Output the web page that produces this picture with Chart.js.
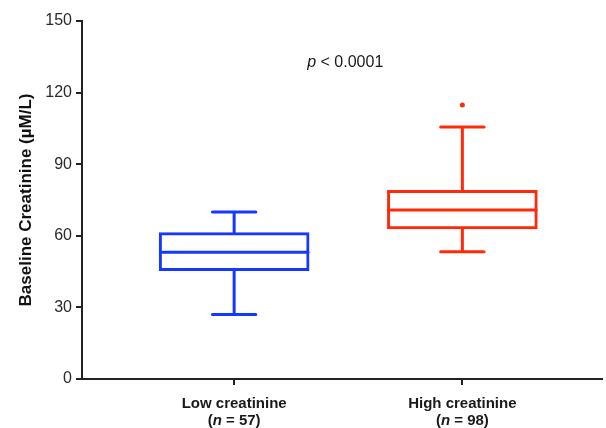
<!DOCTYPE html>
<html>
<head>
<meta charset="utf-8">
<script src="https://cdn.jsdelivr.net/npm/chart.js@4.4.1/dist/chart.umd.min.js"></script>
<style>
    body { margin: 0; background: #fff; }
    #wrap { width: 606px; height: 428px; }
</style>
</head>
<body>
<div id="wrap"><canvas id="boxChart"></canvas></div>
<script>
const groups = ['Low creatinine', 'High creatinine'];
const groupN = [57, 98];
const whiskerMin = [27, 53.3];
const q1 = [45.2, 62.7];
const median = [53.1, 70.8];
const q3 = [61.5, 79.2];
const whiskerMax = [70, 105.6];
const outliers = [[], [114.8]];
const yTicks = [0, 30, 60, 90, 120, 150];
const pText = ['p', ' < 0.0001'];

const colors = ['#1438ff', '#ff2a0a'];
const FONT = "'Liberation Sans', Arial, Helvetica, sans-serif";
const CAP_HALF = 0.095; // cap half width in x units

// draws a line of text made of [text, italic] runs, centred on cx
function drawRuns(ctx, runs, cx, y, size, weight) {
    let total = 0;
    runs.forEach(r => {
        ctx.font = (r[1] ? 'italic ' : '') + weight + ' ' + size + 'px ' + FONT;
        total += ctx.measureText(r[0]).width;
    });
    let x = cx - total / 2;
    runs.forEach(r => {
        ctx.font = (r[1] ? 'italic ' : '') + weight + ' ' + size + 'px ' + FONT;
        ctx.fillText(r[0], x, y);
        x += ctx.measureText(r[0]).width;
    });
}

const boxExtras = {
    id: 'boxExtras',
    afterDatasetsDraw(chart) {
        const { ctx, scales: { x, y } } = chart;
        ctx.save();
        ctx.lineWidth = 3;
        ctx.lineCap = 'round';
        groups.forEach((g, i) => {
            const cx = x.getPixelForValue(i + 1);
            const capL = x.getPixelForValue(i + 1 - CAP_HALF);
            const capR = x.getPixelForValue(i + 1 + CAP_HALF);
            const meta = chart.getDatasetMeta(0).data[i];
            const half = meta.width / 2;
            ctx.strokeStyle = colors[i];
            ctx.beginPath();
            // median
            ctx.moveTo(cx - half + 1.5, y.getPixelForValue(median[i]));
            ctx.lineTo(cx + half - 1.5, y.getPixelForValue(median[i]));
            // whiskers
            ctx.moveTo(cx, y.getPixelForValue(q3[i]));
            ctx.lineTo(cx, y.getPixelForValue(whiskerMax[i]));
            ctx.moveTo(cx, y.getPixelForValue(q1[i]));
            ctx.lineTo(cx, y.getPixelForValue(whiskerMin[i]));
            // caps
            ctx.moveTo(capL, y.getPixelForValue(whiskerMax[i]));
            ctx.lineTo(capR, y.getPixelForValue(whiskerMax[i]));
            ctx.moveTo(capL, y.getPixelForValue(whiskerMin[i]));
            ctx.lineTo(capR, y.getPixelForValue(whiskerMin[i]));
            ctx.stroke();
        });

        // category labels with italic n
        const bottom = chart.chartArea.bottom;
        ctx.fillStyle = '#1a1a1a';
        ctx.textBaseline = 'middle';
        groups.forEach((g, i) => {
            const cx = x.getPixelForValue(i + 1);
            drawRuns(ctx, [[g, false]], cx, bottom + 25, 15, 'bold');
            drawRuns(ctx, [['(', false], ['n', true], [' = ' + groupN[i] + ')', false]], cx, bottom + 41.5, 15, 'bold');
        });

        // p value
        const midX = (x.getPixelForValue(1) + x.getPixelForValue(2)) / 2 - 3;
        drawRuns(ctx, [[pText[0], true], [pText[1], false]], midX, chart.chartArea.top + 42, 16, 'normal');
        ctx.restore();
    }
};

new Chart(document.getElementById('boxChart'), {
    type: 'bar',
    data: {
        datasets: [
            {
                type: 'bar',
                data: groups.map((g, i) => ({ x: i + 1, y: [q1[i], q3[i]] })),
                backgroundColor: 'rgba(0,0,0,0)',
                borderColor: colors,
                borderWidth: 3,
                borderSkipped: false,
                barPercentage: 0.66,
                categoryPercentage: 1,
            },
            {
                type: 'scatter',
                data: outliers.flatMap((list, i) => list.map(v => ({ x: i + 1, y: v }))),
                backgroundColor: outliers.flatMap((list, i) => list.map(() => colors[i])),
                borderWidth: 0,
                pointRadius: 2.5,
            },
        ],
    },
    options: {
        responsive: true,
        maintainAspectRatio: false,
        animation: false,
        layout: { padding: { top: 21, right: 0, left: 0, bottom: 0 } },
        plugins: {
            legend: { display: false },
            tooltip: { enabled: false },
        },
        scales: {
            x: {
                type: 'linear',
                min: 1 - 152 / 228,
                max: 2 + 139.5 / 228,
                offset: false,
                afterBuildTicks: s => { s.ticks = groups.map((g, i) => ({ value: i + 1 })); },
                afterFit: s => { s.height = 49; },
                ticks: { callback: () => '' },
                grid: { offset: false, drawOnChartArea: false, tickLength: 6, color: '#222', lineWidth: 2 },
                border: { color: '#222', width: 2 },
            },
            y: {
                min: 0,
                max: 150,
                afterBuildTicks: s => { s.ticks = yTicks.map(v => ({ value: v })); },
                afterFit: s => { s.width = 82; },
                ticks: { color: '#2a2a2a', padding: 4, font: { family: FONT, size: 16 } },
                grid: { drawOnChartArea: false, tickLength: 6, color: '#222', lineWidth: 2 },
                border: { color: '#222', width: 2 },
                title: {
                    display: true,
                    text: 'Baseline Creatinine (µM/L)',
                    color: '#111',
                    font: { family: FONT, size: 17, weight: 'bold' },
                    padding: { top: 16, bottom: 0 },
                },
            },
        },
    },
    plugins: [boxExtras],
});
</script>
</body>
</html>
